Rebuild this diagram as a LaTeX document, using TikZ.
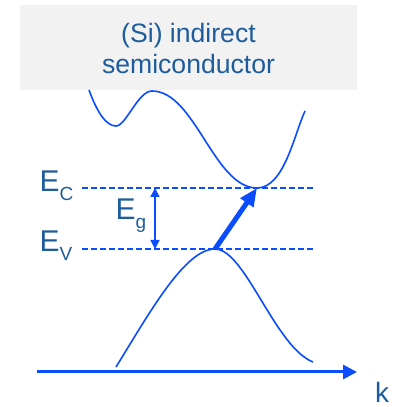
\documentclass[tikz,border=0pt]{standalone}
\usepackage{fontspec}
\setmainfont{Liberation Sans}
\usetikzlibrary{arrows.meta}
\definecolor{bandblue}{RGB}{10,76,255}
\definecolor{labelblue}{RGB}{30,92,156}
\definecolor{boxgray}{RGB}{242,242,242}
\newcommand{\levellabel}[2]{E\raisebox{-9pt}{\fontsize{19}{19}\selectfont #2}}

\begin{document}
\begin{tikzpicture}[
  x=1pt, y=1pt,
  band/.style={draw=bandblue, line width=1.6pt},
  level/.style={draw=bandblue, line width=1.6pt, dash pattern=on 6pt off 3pt},
  lbl/.style={text=labelblue, inner sep=0pt, anchor=base west, font=\fontsize{30}{30}\selectfont},
  >=Triangle
]
\useasboundingbox (0,0) rectangle (393,407);
% title box
\fill[boxgray] (20,317) rectangle (357,402);
\node[text=labelblue, align=center, anchor=base, inner sep=0pt,
  font=\fontsize{26.6}{31}\selectfont] (title) at (188.5,333)
  {(Si) indirect\\semiconductor};

% band extrema
\coordinate (cbmin) at (257,219);
\coordinate (vbmax) at (215,158);

% energy levels
\draw[level] (82,219) -- (313,219);
\draw[level] (82,158) -- (313,158);
\node[lbl] (ec) at (39.5,215) {\levellabel{E}{C}};
\node[lbl] (ev) at (39.5,155) {\levellabel{E}{V}};
\node[lbl] (eg) at (115.5,187) {\levellabel{E}{g}};

% gap arrow
\draw[bandblue, line width=1.5pt, {Triangle[length=9pt,width=9pt]}-{Triangle[length=9pt,width=9pt]}]
  (155,219) -- (155,158);

% conduction band
\draw[band] (89,317) .. controls (97,295) and (106,281) .. (116,281)
  .. controls (126,281) and (138,316) .. (152,316)
  .. controls (195,316) and (214,219) .. (cbmin)
  .. controls (284,219) and (294,272) .. (305,296);

% valence band
\draw[band] (116,40) .. controls (150,95) and (185,158) .. (vbmax)
  .. controls (245,158) and (275,60) .. (313,45);

% k axis
\draw[bandblue, line width=3pt, -{Triangle[length=14pt,width=14pt]}] (37,35) -- (357,35);
\node[lbl, font=\fontsize{28}{28}\selectfont] (k) at (375,5) {k};

% indirect transition
\draw[bandblue, line width=5pt, -{Triangle[length=18pt,width=15pt]}]
  (vbmax) -- (cbmin);
\end{tikzpicture}
\end{document}
